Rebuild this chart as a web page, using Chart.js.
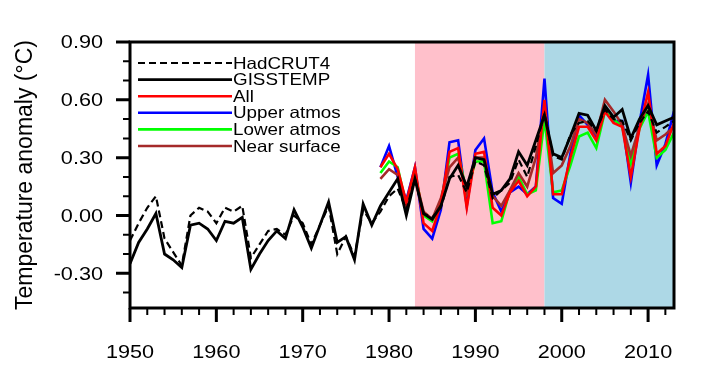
<!DOCTYPE html>
<html>
<head>
<meta charset="utf-8">
<script src="https://cdn.jsdelivr.net/npm/chart.js@4"></script>
<style>
  html, body { margin: 0; padding: 0; background: #fff; }
  #wrap { width: 703px; height: 376px; }
</style>
</head>
<body>
<div id="wrap"><canvas id="temp-chart"></canvas></div>
<script>
// observed series, 1950-2013
const years = [];
for (let y = 1950; y <= 2013; y++) years.push(y);

const hadcrut4 = [
  -0.13, -0.04, 0.04, 0.10, -0.12, -0.19, -0.26, 0.00, 0.04, 0.02,
  -0.04, 0.04, 0.02, 0.05, -0.22, -0.15, -0.08, -0.07, -0.10, 0.00,
  -0.04, -0.15, -0.05, 0.05, -0.20, -0.11, -0.21, 0.03, -0.04, 0.02,
  0.10, 0.14, 0.03, 0.19, 0.01, -0.01, 0.04, 0.20, 0.21, 0.12,
  0.28, 0.26, 0.09, 0.13, 0.17, 0.29, 0.20, 0.36, 0.53, 0.31,
  0.29, 0.42, 0.48, 0.49, 0.44, 0.55, 0.50, 0.49, 0.39, 0.48,
  0.54, 0.43, 0.46, 0.49
];
const gisstemp = [
  -0.25, -0.14, -0.07, 0.01, -0.20, -0.23, -0.27, -0.05, -0.04, -0.07,
  -0.13, -0.03, -0.04, -0.01, -0.28, -0.20, -0.13, -0.08, -0.12, 0.03,
  -0.06, -0.17, -0.05, 0.07, -0.14, -0.11, -0.23, 0.06, -0.05, 0.05,
  0.12, 0.19, 0.00, 0.19, 0.01, -0.02, 0.05, 0.19, 0.26, 0.15,
  0.30, 0.29, 0.11, 0.13, 0.19, 0.33, 0.26, 0.39, 0.52, 0.32,
  0.30, 0.41, 0.53, 0.52, 0.44, 0.57, 0.51, 0.55, 0.40, 0.50,
  0.57, 0.47, 0.49, 0.51
];

// reconstructions, 1979-2013
const reconYears = years.filter(y => y >= 1979);
const allRecon = [
  0.25, 0.32, 0.24, 0.07, 0.25, -0.04, -0.08, 0.06, 0.33, 0.35,
  0.04, 0.32, 0.33, 0.04, 0.00, 0.12, 0.18, 0.10, 0.15, 0.60,
  0.11, 0.11, 0.30, 0.46, 0.46, 0.39, 0.54, 0.48, 0.46, 0.20,
  0.45, 0.64, 0.32, 0.36, 0.48
];
const upperAtmos = [
  0.25, 0.36, 0.20, 0.08, 0.25, -0.07, -0.12, 0.03, 0.38, 0.39,
  0.05, 0.34, 0.40, 0.12, 0.02, 0.12, 0.15, 0.11, 0.15, 0.71,
  0.09, 0.06, 0.32, 0.52, 0.47, 0.41, 0.55, 0.49, 0.49, 0.17,
  0.48, 0.73, 0.26, 0.37, 0.54
];
const lowerAtmos = [
  0.22, 0.28, 0.25, 0.05, 0.22, 0.00, -0.03, 0.07, 0.30, 0.32,
  0.12, 0.28, 0.28, -0.04, -0.03, 0.13, 0.20, 0.11, 0.13, 0.50,
  0.12, 0.13, 0.26, 0.41, 0.43, 0.35, 0.54, 0.50, 0.46, 0.27,
  0.45, 0.54, 0.30, 0.34, 0.43
];
const nearSurface = [
  0.19, 0.24, 0.21, 0.04, 0.20, 0.02, -0.02, 0.09, 0.25, 0.30,
  0.12, 0.30, 0.30, 0.10, 0.05, 0.13, 0.22, 0.15, 0.30, 0.55,
  0.22, 0.26, 0.36, 0.50, 0.48, 0.42, 0.60, 0.54, 0.47, 0.31,
  0.46, 0.58, 0.39, 0.42, 0.46
];

// shaded periods
const periodStarts = [1983, 1998];
const periodEnds = [1998, 2013];
const periodColors = ["#ffc0cb", "#add8e6"];

// axis ticks
const xMajorTicks = [1950, 1960, 1970, 1980, 1990, 2000, 2010];
const xMinorTicks = [1952, 1954, 1956, 1958, 1962, 1964, 1966, 1968, 1972, 1974, 1976, 1978,
  1982, 1984, 1986, 1988, 1992, 1994, 1996, 1998, 2002, 2004, 2006, 2008, 2012];
const yMajorTicks = [-0.3, 0, 0.3, 0.6, 0.9];
const yMinorTicks = [-0.4, -0.2, -0.1, 0.1, 0.2, 0.4, 0.5, 0.7, 0.8];

const FONT = "'Liberation Sans', Arial, sans-serif";
const STRETCH = 1.14; // the original lettering is wide
const toPoints = (xs, ys) => xs.map((x, i) => ({ x, y: ys[i] }));

function wideText(ctx, text, x, y, align) {
  ctx.save();
  ctx.translate(x, y);
  ctx.scale(STRETCH, 1);
  ctx.textAlign = align;
  ctx.fillText(text, 0, 0);
  ctx.restore();
}

const shading = {
  id: "shading",
  beforeDatasetsDraw(chart) {
    const { ctx, chartArea, scales: { x } } = chart;
    ctx.save();
    periodStarts.forEach((s, i) => {
      const x0 = x.getPixelForValue(s);
      const x1 = x.getPixelForValue(periodEnds[i]);
      ctx.fillStyle = periodColors[i];
      ctx.fillRect(x0, chartArea.top, x1 - x0, chartArea.bottom - chartArea.top);
    });
    ctx.restore();
  }
};

const frame = {
  id: "frame",
  afterDatasetsDraw(chart) {
    const { ctx, chartArea: a, scales: { x, y } } = chart;
    ctx.save();
    ctx.strokeStyle = "#000";
    ctx.lineCap = "butt";
    const tick = (list, len, w, horiz) => {
      ctx.lineWidth = w;
      ctx.beginPath();
      list.forEach(v => {
        if (horiz) {
          const px = x.getPixelForValue(v);
          ctx.moveTo(px, a.bottom);
          ctx.lineTo(px, a.bottom + len);
        } else {
          const py = y.getPixelForValue(v);
          ctx.moveTo(a.left, py);
          ctx.lineTo(a.left - len, py);
        }
      });
      ctx.stroke();
    };
    tick(xMajorTicks, 14, 3, true);
    tick(xMinorTicks, 7, 2, true);
    tick(yMajorTicks, 14, 3, false);
    tick(yMinorTicks, 7, 2, false);
    ctx.lineWidth = 3;
    ctx.strokeRect(a.left, a.top, a.right - a.left, a.bottom - a.top);

    // tick labels
    ctx.fillStyle = "#000";
    ctx.font = "19px " + FONT;
    ctx.textBaseline = "middle";
    yMajorTicks.forEach(v => wideText(ctx, v.toFixed(2), a.left - 27, y.getPixelForValue(v) + 1, "right"));
    xMajorTicks.forEach(v => wideText(ctx, String(v), x.getPixelForValue(v), a.bottom + 45, "center"));

    // legend
    const ds = chart.data.datasets;
    ctx.font = "16.5px " + FONT;
    ds.forEach((d, i) => {
      const ly = a.top + 21 + i * 16.6;
      ctx.strokeStyle = d.borderColor;
      ctx.lineWidth = d.borderWidth;
      ctx.setLineDash(d.borderDash || []);
      ctx.beginPath();
      ctx.moveTo(a.left + 8, ly);
      ctx.lineTo(a.left + 102, ly);
      ctx.stroke();
      ctx.setLineDash([]);
      wideText(ctx, d.label, a.left + 103, ly + 1, "left");
    });
    ctx.restore();
  }
};

const line = (label, xs, ys, color, width, order, dash) => ({
  label,
  data: toPoints(xs, ys),
  borderColor: color,
  backgroundColor: color,
  borderWidth: width,
  borderDash: dash || [],
  pointRadius: 0,
  tension: 0,
  order
});

new Chart("temp-chart", {
  type: "line",
  data: {
    datasets: [
      line("HadCRUT4", years, hadcrut4, "#000", 2.2, 1, [7, 4]),
      line("GISSTEMP", years, gisstemp, "#000", 2.8, 0),
      line("All", reconYears, allRecon, "#ff0000", 2.6, 2),
      line("Upper atmos", reconYears, upperAtmos, "#0000ff", 2.6, 5),
      line("Lower atmos", reconYears, lowerAtmos, "#00ff00", 2.6, 4),
      line("Near surface", reconYears, nearSurface, "#a52a2a", 2.6, 3)
    ]
  },
  options: {
    responsive: true,
    maintainAspectRatio: false,
    animation: false,
    layout: { padding: { left: 12, right: 29, top: 42, bottom: 0 } },
    plugins: { legend: { display: false }, tooltip: { enabled: false } },
    scales: {
      x: {
        type: "linear",
        min: 1950,
        max: 2013,
        grid: { display: false, drawTicks: false },
        border: { display: false },
        afterBuildTicks: s => { s.ticks = xMajorTicks.map(v => ({ value: v })); },
        afterFit: s => { s.height = 68; },
        ticks: { display: false }
      },
      y: {
        min: -0.48,
        max: 0.9,
        grid: { display: false, drawTicks: false },
        border: { display: false },
        afterBuildTicks: s => { s.ticks = yMajorTicks.map(v => ({ value: v })); },
        afterFit: s => { s.width = 118; },
        title: {
          display: true,
          text: "Temperature anomaly (\u00b0C)",
          color: "#000",
          font: { family: FONT, size: 23 },
          padding: 0
        },
        ticks: { display: false }
      }
    }
  },
  plugins: [shading, frame]
});
</script>
</body>
</html>
